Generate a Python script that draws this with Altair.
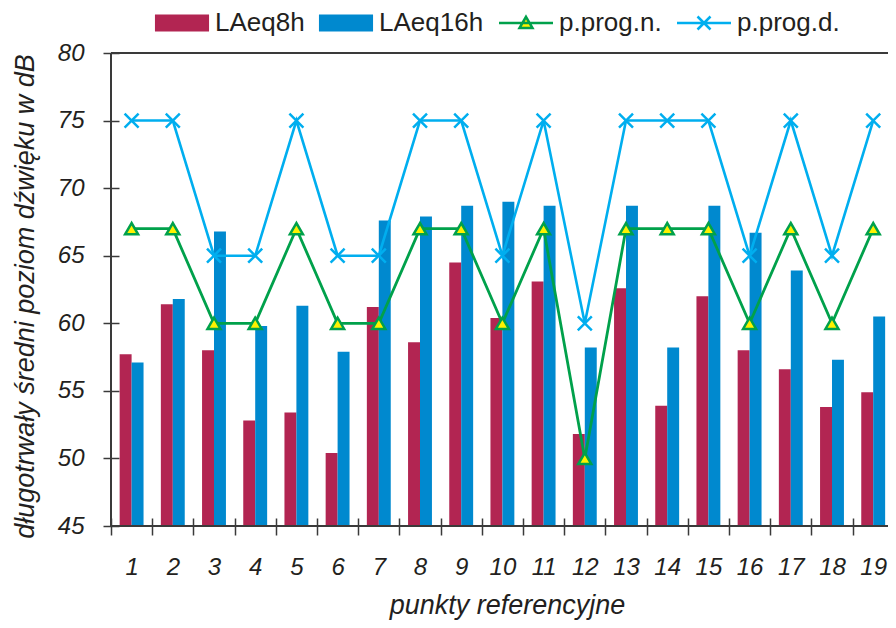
import altair as alt
import pandas as pd

# ---- data ----
categories = list(range(1, 20))
laeq8h = [57.7, 61.4, 58.0, 52.8, 53.4, 50.4, 61.2, 58.6, 64.5, 60.4,
          63.1, 51.8, 62.6, 53.9, 62.0, 58.0, 56.6, 53.8, 54.9]
laeq16h = [57.1, 61.8, 66.8, 59.8, 61.3, 57.9, 67.6, 67.9, 68.7, 69.0,
           68.7, 58.2, 68.7, 58.2, 68.7, 66.7, 63.9, 57.3, 60.5]
p_prog_n = [67, 67, 60, 60, 67, 60, 60, 67, 67, 60, 67, 50, 67, 67, 67, 60, 67, 60, 67]
p_prog_d = [75, 75, 65, 65, 75, 65, 65, 75, 75, 65, 75, 60, 75, 75, 75, 65, 75, 65, 75]
series_names = ["LAeq8h", "LAeq16h", "p.prog.n.", "p.prog.d."]
y_ticks = [45, 50, 55, 60, 65, 70, 75, 80]
x_title = "punkty referencyjne"
y_title = "długotrwały średni poziom dźwięku w dB"

# ---- styles ----
RED = "#B22552"
BLUE = "#0089CF"
GREEN = "#00A14B"
LBLUE = "#00AEEF"
YELLOW = "#FFF200"
INK = "#231F20"
AXIS = "#3A3A3A"
FONT = "Liberation Sans"

W, H = 777, 473
PX_PER_CAT = 41.2
X_MIN = 0.5
X_MAX = 0.5 + W / PX_PER_CAT
Y_MIN, Y_MAX = 45, 80
HALF = 0.29

df = pd.DataFrame({"cat": categories, "laeq8h": laeq8h, "laeq16h": laeq16h,
                   "pn": p_prog_n, "pd": p_prog_d})

xscale = alt.Scale(domain=[X_MIN, X_MAX], nice=False, zero=False)
yscale = alt.Scale(domain=[Y_MIN, Y_MAX], nice=False, zero=False)

x_values = [i / 2 for i in range(1, 39)]
xaxis = alt.Axis(
    values=x_values,
    labelExpr="datum.value % 1 == 0 ? format(datum.value, 'd') : ''",
    tickOpacity={"condition": {"test": "datum.value % 1 == 0", "value": 0}, "value": 1},
    grid=False, domain=False, offset=-8, tickSize=17, tickWidth=1.5, tickColor=AXIS,
    labelFont=FONT, labelFontSize=24, labelFontStyle="italic", labelColor=INK,
    labelPadding=20, labelFlush=False, labelOverlap=False, labelBound=False,
    title=x_title, titleFont=FONT, titleFontSize=27, titleFontStyle="italic",
    titleFontWeight="normal", titleColor=INK, titleX=396, titleY=95,
    titleBaseline="alphabetic", titleAlign="center",
)
yaxis = alt.Axis(
    values=y_ticks, grid=False, domain=False, offset=-8, tickSize=16, tickWidth=1.5,
    tickColor=AXIS, labelFont=FONT, labelFontSize=24, labelFontStyle="italic",
    labelColor=INK, labelPadding=19, labelFlush=False, labelOverlap=False,
    title=y_title, titleFont=FONT, titleFontSize=27, titleFontStyle="italic",
    titleFontWeight="normal", titleColor=INK, titleX=-86, titleY=243,
    titleBaseline="alphabetic", titleAlign="center", titleAngle=270,
)


def X(field=None, datum=None):
    if datum is not None:
        return alt.X(datum=datum, type="quantitative", scale=xscale, axis=xaxis)
    return alt.X(field, type="quantitative", scale=xscale, axis=xaxis)


def Y(field=None, datum=None):
    if datum is not None:
        return alt.Y(datum=datum, type="quantitative", scale=yscale, axis=yaxis)
    return alt.Y(field, type="quantitative", scale=yscale, axis=yaxis)


base = alt.Chart(df)

bars8 = base.transform_calculate(
    x0=f"datum.cat - {HALF}", x1="datum.cat"
).mark_rect(color=RED, clip=True).encode(
    x=X("x0"), x2="x1:Q", y=Y("laeq8h"), y2=alt.Y2(datum=Y_MIN)
)
bars16 = base.transform_calculate(
    x0="datum.cat", x1=f"datum.cat + {HALF}"
).mark_rect(color=BLUE, clip=True).encode(
    x=X("x0"), x2="x1:Q", y=Y("laeq16h"), y2=alt.Y2(datum=Y_MIN)
)

line_n = base.mark_line(color=GREEN, strokeWidth=2.8, clip=True).encode(x=X("cat"), y=Y("pn"))
pts_n = base.mark_point(shape="triangle-up", size=170, filled=True, fill=YELLOW,
                        stroke=GREEN, strokeWidth=2.5, opacity=1, clip=True).encode(
    x=X("cat"), y=Y("pn"))
line_d = base.mark_line(color=LBLUE, strokeWidth=2.6, clip=True).encode(x=X("cat"), y=Y("pd"))
pts_d = base.mark_point(shape="M-1,-1L1,1M1,-1L-1,1", size=196, filled=False,
                        color=LBLUE, strokeWidth=2.5, opacity=1, clip=True).encode(
    x=X("cat"), y=Y("pd"))

rule_left = alt.Chart(df).mark_rule(color=AXIS, strokeWidth=2).encode(
    x=X(datum=X_MIN), y=Y(datum=Y_MIN), y2=alt.Y2(datum=Y_MAX))
rule_bottom = alt.Chart(df).mark_rule(color=AXIS, strokeWidth=2).encode(
    x=X(datum=X_MIN), x2=alt.X2(datum=X_MAX), y=Y(datum=Y_MIN))
rule_top = alt.Chart(df).mark_rule(color=AXIS, strokeWidth=2).encode(
    x=X(datum=X_MIN), x2=alt.X2(datum=X_MAX), y=Y(datum=Y_MAX))

SYM_RECT = "M-0.88,-0.72H4.28V0.72H-0.88Z"
SYM_TRI = "M-1,0H4.4M1.7,-0.62L2.35,0.5H1.05Z"
SYM_X = "M-1,0H4.4M1.05,-0.65L2.35,0.65M2.35,-0.65L1.05,0.65"

legend_layer = base.transform_calculate(series="'LAeq8h'").transform_filter("false").mark_point(
    filled=True, opacity=1, size=400, strokeWidth=2.5, clip=True
).encode(
    x=X("cat"), y=Y("pn"),
    fill=alt.Fill("series:N", scale=alt.Scale(domain=series_names,
                  range=[RED, BLUE, YELLOW, "transparent"]), legend=alt.Legend(title=None)),
    stroke=alt.Stroke("series:N", scale=alt.Scale(domain=series_names,
                      range=[RED, BLUE, GREEN, LBLUE]), legend=alt.Legend(title=None)),
    shape=alt.Shape("series:N", scale=alt.Scale(domain=series_names,
                    range=[SYM_RECT, SYM_RECT, SYM_TRI, SYM_X]), legend=alt.Legend(title=None)),
)

chart = alt.layer(
    bars8, bars16, rule_bottom, rule_top, rule_left, line_d, line_n, pts_d, pts_n, legend_layer
).properties(
    width=W, height=H,
    autosize=alt.AutoSizeParams(type="none"),
    padding={"left": 103, "top": 45, "right": 0, "bottom": 94},
    background="white",
).configure_view(strokeWidth=0).configure_legend(
    orient="none", legendX=41, legendY=-43, direction="horizontal",
    symbolSize=400, symbolStrokeWidth=2.5, symbolOpacity=1,
    labelFont=FONT, labelFontSize=26, labelColor=INK, labelOffset=37,
    columnPadding=10, padding=0, labelLimit=300,
)

chart.save("out.html", embed_options={"renderer": "svg", "actions": False})
